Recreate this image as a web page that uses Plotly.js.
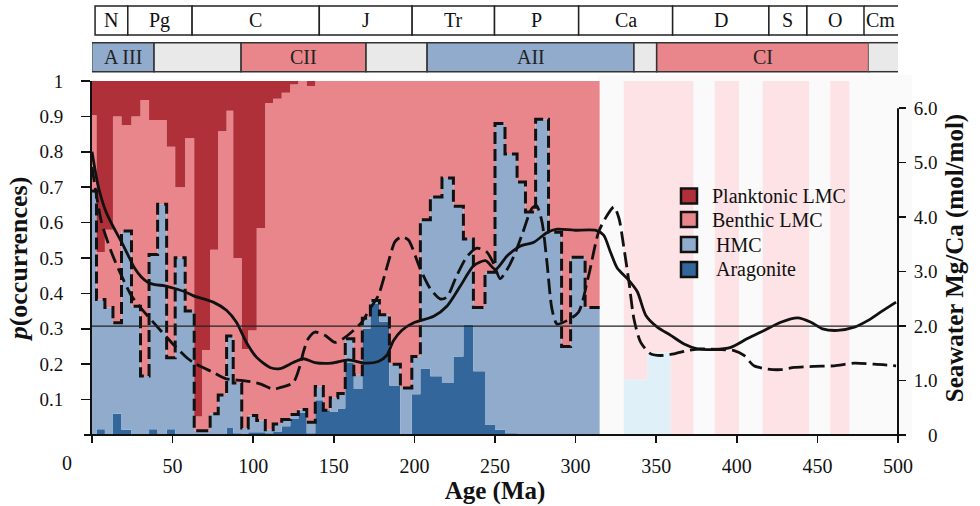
<!DOCTYPE html>
<html><head><meta charset="utf-8">
<script src="https://cdn.plot.ly/plotly-3.0.1.min.js"></script>
<style>body{margin:0;background:#fff}#chart{width:980px;height:506px}</style>
</head><body><div id="chart"></div>
<script>
// ---- data (Age in Ma) ----
const binEdges = [0, 2.8, 8.0, 13.0, 18.3, 24.5, 30.1, 35.4, 40.7, 46.3, 51.6, 57.8, 63.4, 68.3, 73.3, 78.3, 83.5, 87.6, 92.9, 96.9, 102.2, 107.5, 112.4, 117.7, 123.0, 128.0, 133.2, 138.5, 143.5, 147.8, 152.5, 157.1, 162.4, 167.7, 172.7, 178.3, 184.5, 191.3, 198.4, 203.7, 209.9, 217.1, 224.2, 230.4, 236.6, 243.8, 250.0, 256.2, 263.7, 268.9, 275.2, 283.2, 291.3, 296.9, 305.9, 314.9];
// cumulative top of Benthic LMC (= 1 - planktonic share)
const benthicTop = [0.903,0.517,0.58,0.90,0.875,0.90,0.946,0.89,0.89,0.814,0.70,0.838,0.052,0.24,0.523,0.858,0.916,0.50,0.243,0.295,0.585,0.938,0.95,0.967,0.99,1,0.986,1,1,1,1,1,1,1,1,1,1,1,1,1,1,1,1,1,1,1,1,1,1,1,1,1,1,1,1];
// cumulative top of HMC (HMC + aragonite)
const hmcTop = [0.689,0.383,0.36,0.317,0.576,0.364,0.167,0.51,0.652,0.218,0.501,0.35,0.012,0.012,0.06,0.113,0.28,0.147,0.02,0.055,0.041,0.015,0.031,0.044,0.058,0.072,0.036,0.137,0.07,0.105,0.117,0.272,0.17,0.33,0.38,0.34,0.2,0.133,0.222,0.608,0.672,0.726,0.646,0.554,0.36,0.46,0.88,0.794,0.715,0.63,0.892,0.573,0.25,0.502,0.36];
// aragonite share
const aragonite = [0,0.016,0,0.06,0.015,0,0,0.016,0,0.016,0,0,0,0,0,0,0.02,0.005,0,0.008,0.008,0.005,0.01,0.025,0.045,0.062,0.005,0.098,0.07,0.065,0.075,0.205,0.13,0.30,0.37,0.32,0.14,0,0.115,0.188,0.166,0.147,0.222,0.312,0.18,0.03,0.015,0.005,0,0,0,0,0,0,0];

// faded (older) intervals
const paleEdges = [314.9, 329.9, 344.5, 359.0, 373.1, 386.3, 401.4, 416.0, 444.9, 458.0, 469.8, 500];
const paleHMC = [0, 0.157, 0.233, 0, 0, 0, 0, 0, 0, 0, 0];
const paleLMC = [0, 0.843, 0.767, 1, 0, 1, 0, 1, 0, 1, 0];

// seawater Mg/Ca curves
const solidAge = [0,3.7,7.9,12.0,18.2,22.4,26.5,30.6,34.8,38.9,45.2,51.4,57.6,62.7,75.2,83.4,89.6,95.8,102.0,110.4,116.6,124.8,131.1,138.3,148.6,159.0,169.4,177.6,182.8,187.0,192.1,199.6,212.0,220.3,228.6,236.8,244.1,250.3,257.6,265.8,274.1,282.4,288.6,299.0,312.2,317.4,321.6,325.9,332.1,338.3,343.5,350.7,359.0,367.3,375.6,385.9,396.3,406.6,417.0,427.3,437.7,446.0,453.2,462.5,472.9,481.2,489.4,498.8];
const solidMgCa = [5.20,4.59,4.16,3.89,3.55,3.30,3.06,2.90,2.80,2.76,2.74,2.69,2.63,2.56,2.44,2.29,2.07,1.70,1.43,1.24,1.22,1.33,1.40,1.33,1.32,1.38,1.32,1.35,1.46,1.73,1.92,2.06,2.18,2.37,2.74,3.11,3.20,3.04,3.29,3.47,3.54,3.72,3.78,3.76,3.76,3.67,3.36,3.06,2.87,2.63,2.20,1.98,1.83,1.67,1.58,1.57,1.61,1.77,1.92,2.07,2.15,2.07,1.95,1.92,1.98,2.10,2.26,2.44];
const dashedAge = [0,5.8,12.0,18.2,24.4,30.6,38.9,49.3,59.6,64.0,75.2,83.4,93.8,104.2,112.4,116.6,124.8,129.0,131.1,134.2,138.3,144.5,150.7,155.9,161.1,167.3,172.5,177.6,183.9,188.0,192.1,196.3,203.5,209.8,216.0,220.1,226.3,232.5,238.7,244.9,249.1,253.2,257.3,261.5,266.7,272.9,275.8,279.1,282.2,285.3,288.4,294.6,301.9,308.1,314.3,319.7,323.8,326.9,330.0,333.1,336.2,340.4,346.6,352.8,361.1,369.4,377.6,388.0,398.3,404.5,410.7,419.1,427.3,435.6,448.0,460.4,472.9,485.3,498.8];
const dashedMgCa = [4.92,3.92,3.36,2.93,2.56,2.32,2.04,1.70,1.40,1.31,1.15,1.03,1.00,0.94,0.84,0.87,0.96,1.27,1.52,1.77,1.89,1.83,1.70,1.77,1.89,2.07,2.32,2.56,3.18,3.55,3.64,3.58,3.06,2.69,2.50,2.53,2.93,3.27,3.43,3.36,3.15,2.87,3.03,3.27,3.67,4.16,4.21,3.92,3.18,2.32,2.04,2.10,2.26,2.93,3.73,4.04,4.19,3.98,3.43,2.81,2.13,1.70,1.49,1.46,1.49,1.55,1.58,1.57,1.55,1.46,1.27,1.21,1.20,1.24,1.26,1.27,1.32,1.30,1.27];

// header bands
const periods = ['N','Pg','C','J','Tr','P','Ca','D','S','O','Cm'];
const periodEdges = [1.9, 22.2, 62.1, 141, 198.6, 249.7, 301.9, 360.2, 419.9, 443.5, 478.9, 500];
const intervals = ['A III','','CII','','AII','','CI',''];
const intervalKind = ['A','gap','C','gap','A','gap','C','gap'];
const intervalEdges = [-0.2, 38.5, 92.5, 170, 207.9, 336.2, 350.3, 481.8, 500];

const categories = ['Planktonic LMC','Benthic LMC','HMC','Aragonite'];
const catColors = ['#b0303a','#e8868c','#90abcb','#33669b'];
const xTicks = [0,50,100,150,200,250,300,350,400,450,500];
const yTicks = [0.1,0.2,0.3,0.4,0.5,0.6,0.7,0.8,0.9,1];
const y2Ticks = [0,1,2,3,4,5,6];

// ---- build ----
const FONT = '"Liberation Serif", "Times New Roman", Times, serif';
const ext = a => a.concat([a[a.length-1]]);
const hmcShare = hmcTop.map((v,i)=>+(v-aragonite[i]).toFixed(3));
const benthicShare = benthicTop.map((v,i)=>+(v-hmcTop[i]).toFixed(3));
const planktonicShare = benthicTop.map(v=>+(1-v).toFixed(3));

function stack(name, y, color, group, x){
  return {type:'scatter', mode:'lines', x:x, y:ext(y), stackgroup:group,
    line:{shape:'hv', width:0, color:color}, fillcolor:color, name:name,
    hoverinfo:'skip', showlegend:false};
}
const traces = [
  stack('Aragonite', aragonite, catColors[3], 'main', binEdges),
  stack('HMC', hmcShare, catColors[2], 'main', binEdges),
  stack('Benthic LMC', benthicShare, catColors[1], 'main', binEdges),
  stack('Planktonic LMC', planktonicShare, catColors[0], 'main', binEdges),
  stack('HMC (older)', paleHMC, '#dff0f8', 'pale', paleEdges),
  stack('LMC (older)', paleLMC, '#fde3e5', 'pale', paleEdges),
  {type:'scatter', mode:'lines', x:binEdges, y:ext(hmcTop), line:{shape:'hv', color:'#111', width:3, dash:'12px,5px'}, hoverinfo:'skip', showlegend:false},
  {type:'scatter', mode:'lines', x:solidAge, y:solidMgCa, yaxis:'y2', line:{shape:'spline', smoothing:0.7, color:'#111', width:2.8}, hoverinfo:'skip', showlegend:false},
  {type:'scatter', mode:'lines', x:dashedAge, y:dashedMgCa, yaxis:'y2', line:{shape:'spline', smoothing:0.7, color:'#111', width:2.8, dash:'15px,6px'}, hoverinfo:'skip', showlegend:false}
];

const H = 354; // plot height px
const py = px => (435 - px) / H; // page px -> paper y
const pxX = px => (px - 92) / 806;
const shapes = [];
const annotations = [];

// faint background for the older section
shapes.push({type:'rect', xref:'paper', yref:'paper', x0:pxX(598), x1:pxX(912), y0:py(440), y1:py(75), fillcolor:'#fafafa', line:{width:0}, layer:'below'});

// period row
const pTop = py(6), pBot = py(35);
for(let i=0;i<periods.length;i++){
  const x0=periodEdges[i], x1=periodEdges[i+1];
  if(i<periods.length-1){
    shapes.push({type:'rect', xref:'x', yref:'paper', x0:x0, x1:x1, y0:pBot, y1:pTop, fillcolor:'#fff', line:{color:'#222', width:1.5}});
  } else {
    shapes.push({type:'line', xref:'x', yref:'paper', x0:x0, x1:x1, y0:pTop, y1:pTop, line:{color:'#222', width:1.5}});
    shapes.push({type:'line', xref:'x', yref:'paper', x0:x0, x1:x1, y0:pBot, y1:pBot, line:{color:'#222', width:1.5}});
  }
  annotations.push({xref:'x', yref:'paper', x:(x0+x1)/2, y:(pTop+pBot)/2, text:periods[i], showarrow:false, font:{family:FONT, size:20, color:'#111'}, xanchor:'center', yanchor:'middle'});
}
// interval row
const iTop = py(42.7), iBot = py(71.7);
const kindColor = {A:'#90abcb', C:'#e8868c', gap:'#e9e9e9'};
for(let i=0;i<intervals.length;i++){
  const x0=intervalEdges[i], x1=intervalEdges[i+1];
  if(i<intervals.length-1){
    shapes.push({type:'rect', xref:'x', yref:'paper', x0:x0, x1:x1, y0:iBot, y1:iTop, fillcolor:kindColor[intervalKind[i]], line:{color:'#333', width:1.5}});
  } else {
    shapes.push({type:'rect', xref:'x', yref:'paper', x0:x0, x1:x1, y0:iBot, y1:iTop, fillcolor:kindColor[intervalKind[i]], line:{width:0}});
    shapes.push({type:'line', xref:'x', yref:'paper', x0:x0, x1:x1, y0:iTop, y1:iTop, line:{color:'#333', width:1.5}});
    shapes.push({type:'line', xref:'x', yref:'paper', x0:x0, x1:x1, y0:iBot, y1:iBot, line:{color:'#333', width:1.5}});
  }
  if(intervals[i]) annotations.push({xref:'x', yref:'paper', x:(x0+x1)/2, y:(iTop+iBot)/2, text:intervals[i], showarrow:false, font:{family:FONT, size:20, color:'#222'}, xanchor:'center', yanchor:'middle'});
}

// threshold line at Mg/Ca = 2
shapes.push({type:'line', xref:'x', yref:'y2', x0:0, x1:500, y0:2, y1:2, line:{color:'#222', width:1.3}});
// right axis line (0 to 6)
shapes.push({type:'line', xref:'paper', yref:'y2', x0:1, x1:1, y0:0, y1:6, line:{color:'#111', width:2}});
// bottom axis line
shapes.push({type:'line', xref:'paper', yref:'paper', x0:pxX(84), x1:pxX(905), y0:0, y1:0, line:{color:'#111', width:2}});

// legend
const legY = [196, 219.5, 244.5, 269.5];
const legX = [710, 710, 714, 714];
for(let i=0;i<categories.length;i++){
  shapes.push({type:'rect', xref:'paper', yref:'paper', x0:pxX(681), x1:pxX(697), y0:py(legY[i]+7.5), y1:py(legY[i]-7.5), fillcolor:catColors[i], line:{color:'#111', width:2.5}});
  annotations.push({xref:'paper', yref:'paper', x:pxX(legX[i]), y:py(legY[i]), text:categories[i], showarrow:false, xanchor:'left', yanchor:'middle', font:{family:FONT, size:20, color:'#111'}});
}
// origin "0"
annotations.push({xref:'paper', yref:'paper', x:pxX(67), y:py(463), text:'0', showarrow:false, xanchor:'center', yanchor:'middle', font:{family:FONT, size:20, color:'#111'}});

const layout = {
  width:980, height:506,
  margin:{l:92, r:82, t:81, b:71, pad:0},
  paper_bgcolor:'#fff', plot_bgcolor:'#fff',
  showlegend:false,
  font:{family:FONT, color:'#111'},
  xaxis:{range:[0,500], tickvals:xTicks, ticktext:xTicks.map(v=>v===0?'':String(v)),
    ticks:'outside', ticklen:7, tickwidth:1.5, tickcolor:'#111', showline:false, showgrid:false, zeroline:false,
    tickfont:{family:FONT, size:20, color:'#111'}, ticklabelstandoff:6,
    title:{text:'<b>Age (Ma)</b>', font:{family:FONT, size:25, color:'#111'}, standoff:4}},
  yaxis:{range:[0,1], tickvals:yTicks, ticktext:yTicks.map(v=>v===1?'1':v.toFixed(1)),
    ticks:'outside', ticklen:9, tickwidth:1.5, tickcolor:'#111', showline:true, linewidth:2, linecolor:'#111',
    showgrid:false, zeroline:false, tickfont:{family:FONT, size:19, color:'#111'}, ticklabelstandoff:14,
    title:{text:'<b><i>p</i>(occurrences)</b>', font:{family:FONT, size:26, color:'#111'}, standoff:4}},
  yaxis2:{range:[0,6.5], overlaying:'y', side:'right', tickvals:y2Ticks,
    ticktext:y2Ticks.map(v=>v===0?'\u00a0\u00a0\u00a00':v.toFixed(1)),
    ticks:'outside', ticklen:7, tickwidth:1.5, tickcolor:'#111', showline:false, showgrid:false, zeroline:false,
    tickfont:{family:FONT, size:19, color:'#111'}, ticklabelstandoff:4,
    title:{text:'<b>Seawater Mg/Ca (mol/mol)</b>', font:{family:FONT, size:25, color:'#111'}, standoff:8}},
  shapes:shapes, annotations:annotations
};
Plotly.newPlot('chart', traces, layout, {staticPlot:true, displayModeBar:false});
</script>
</body></html>
